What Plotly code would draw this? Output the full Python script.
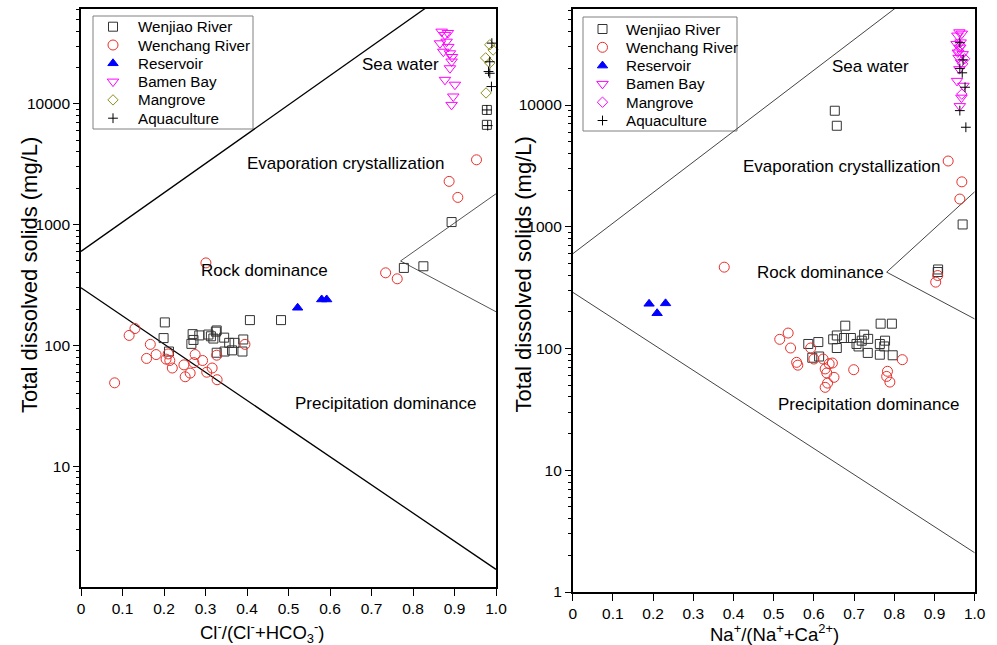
import plotly.graph_objects as go

# ---- Gibbs diagram data: TDS (mg/L) vs. ion ratios ----
# Panel A: Cl-/(Cl- + HCO3-)
wenjiao_cl = [0.893, 0.778, 0.825, 0.407, 0.482, 0.202, 0.199, 0.212, 0.269, 0.271, 0.266, 0.285, 0.307, 0.313,
              0.319, 0.325, 0.327, 0.345, 0.357, 0.370, 0.391, 0.346, 0.364, 0.389, 0.327, 0.978, 0.978]
wenjiao_cl_tds = [1050, 438, 452, 162, 162, 155, 115, 89, 124, 111, 103, 121, 123, 119,
                  114, 130, 133, 116, 105, 105, 112, 89, 91, 89, 87, 8900, 6700]
wenchang_cl = [0.953, 0.887, 0.908, 0.301, 0.734, 0.762, 0.395, 0.130, 0.116, 0.167, 0.158, 0.181, 0.205, 0.210,
               0.214, 0.220, 0.248, 0.275, 0.272, 0.293, 0.263, 0.251, 0.303, 0.316, 0.327, 0.328, 0.081]
wenchang_cl_tds = [3440, 2280, 1680, 482, 399, 356, 102, 138, 121, 102, 78, 84, 77, 85,
                   75, 65, 69, 84, 72, 75, 59, 55, 60, 65, 83, 52, 49]
reservoir_cl = [0.522, 0.580, 0.592]
reservoir_cl_tds = [205, 240, 240]
bamen_cl = [0.869, 0.877, 0.884, 0.865, 0.881, 0.885, 0.873, 0.889, 0.894, 0.893, 0.889, 0.877, 0.901, 0.897, 0.893]
bamen_cl_tds = [39600, 37200, 38600, 31700, 32700, 29600, 27000, 26200, 24400, 22400, 19700, 15800, 14400, 11500, 9800]
mangrove_cl = [0.985, 0.993, 0.975, 0.985, 0.976]
mangrove_cl_tds = [30800, 27900, 24000, 21800, 12300]
aqua_cl = [0.990, 0.985, 0.982, 0.985, 0.989, 0.978, 0.980]
aqua_cl_tds = [31800, 22300, 18500, 17900, 13900, 8900, 6600]

# Panel B: Na+/(Na+ + Ca2+)
wenjiao_na = [0.586, 0.611, 0.596, 0.613, 0.648, 0.657, 0.657, 0.678, 0.675, 0.692, 0.706, 0.711, 0.719, 0.725,
              0.735, 0.734, 0.766, 0.794, 0.764, 0.777, 0.775, 0.764, 0.796, 0.970, 0.909, 0.908, 0.652, 0.657]
wenjiao_na_tds = [109, 113, 84, 86, 119, 128, 101, 154, 122, 122, 109, 104, 116, 130,
                  120, 92, 160, 160, 109, 116, 104, 89, 88, 1045, 446, 425, 8980, 6760]
wenchang_na = [0.934, 0.968, 0.963, 0.377, 0.908, 0.903, 0.515, 0.536, 0.542, 0.557, 0.560, 0.592, 0.600,
               0.623, 0.638, 0.646, 0.628, 0.632, 0.650, 0.634, 0.628, 0.699, 0.783, 0.781, 0.789, 0.820]
wenchang_na_tds = [3470, 2340, 1690, 466, 398, 351, 119, 134, 101, 77, 73, 101, 82,
                   82, 75, 76, 68, 63, 58, 52, 48, 67, 65, 59, 53, 81]
reservoir_na = [0.190, 0.231, 0.210]
reservoir_na_tds = [233, 235, 195]
bamen_na = [0.962, 0.957, 0.968, 0.955, 0.965, 0.963, 0.958, 0.970, 0.960, 0.966, 0.962, 0.956, 0.972, 0.967, 0.963]
bamen_na_tds = [39600, 37200, 38600, 31700, 32700, 29600, 27000, 26200, 24400, 22400, 19700, 15800, 14400, 11500, 9800]
mangrove_na = [0.965, 0.960, 0.975, 0.970, 0.968]
mangrove_na_tds = [30800, 27900, 24000, 21800, 12300]
aqua_na = [0.963, 0.971, 0.963, 0.969, 0.976, 0.963, 0.978]
aqua_na_tds = [32500, 23500, 20000, 18400, 14000, 9000, 6570]

# Gibbs boundary lines (ratio, TDS)
cl_upper_x, cl_upper_y = [0, 1], [600, 160000]
cl_lower_x, cl_lower_y = [0, 1], [300, 1.4]
cl_wedge_x, cl_wedge_y = [1, 0.77, 1], [1800, 500, 190]
na_upper_x, na_upper_y = [0, 1], [600, 196000]
na_lower_x, na_lower_y = [0, 1], [290, 2.1]
na_wedge_x, na_wedge_y = [1, 0.781, 1], [1940, 424, 175]

x_ticks = [0, 0.1, 0.2, 0.3, 0.4, 0.5, 0.6, 0.7, 0.8, 0.9, 1.0]
x_tick_text = ["0", "0.1", "0.2", "0.3", "0.4", "0.5", "0.6", "0.7", "0.8", "0.9", "1.0"]
legend_names = ["Wenjiao River", "Wenchang River", "Reservoir", "Bamen Bay", "Mangrove", "Aquaculture"]

FONT = "Liberation Sans, Arial, Helvetica, sans-serif"
RED = "#e8302b"
DARK = "#333333"
BLUE = "#0000ff"
MAGENTA = "#ff00ff"
OLIVE = "#8f8f1f"
W, H = 997, 645

# marker styles per group: (symbol, size)
styles = [("square-open", 9), ("circle-open", 10), ("triangle-up", 9),
          ("triangle-down-open", 10), ("diamond-open", 8), ("cross-thin", 7)]
colors_a = [DARK, RED, BLUE, MAGENTA, OLIVE, "black"]
colors_b = [DARK, RED, BLUE, MAGENTA, MAGENTA, "black"]

fig = go.Figure()


def marker_of(i, color):
    sym, size = styles[i]
    return dict(symbol=sym, size=size, color=color, line=dict(color=color, width=1))


def add_line(x, y, xa, ya, color, width):
    fig.add_trace(go.Scatter(x=x, y=y, mode="lines", showlegend=False, hoverinfo="skip",
                             line=dict(color=color, width=width), xaxis=xa, yaxis=ya))


# boundaries
add_line(cl_upper_x, cl_upper_y, "x", "y", "black", 1.3)
add_line(cl_lower_x, cl_lower_y, "x", "y", "black", 1.3)
add_line(cl_wedge_x, cl_wedge_y, "x", "y", "#555555", 1)
add_line(na_upper_x, na_upper_y, "x2", "y2", "#444444", 1)
add_line(na_lower_x, na_lower_y, "x2", "y2", "#444444", 1)
add_line(na_wedge_x, na_wedge_y, "x2", "y2", "#444444", 1)

series_a = [(wenjiao_cl, wenjiao_cl_tds), (wenchang_cl, wenchang_cl_tds), (reservoir_cl, reservoir_cl_tds),
            (bamen_cl, bamen_cl_tds), (mangrove_cl, mangrove_cl_tds), (aqua_cl, aqua_cl_tds)]
series_b = [(wenjiao_na, wenjiao_na_tds), (wenchang_na, wenchang_na_tds), (reservoir_na, reservoir_na_tds),
            (bamen_na, bamen_na_tds), (mangrove_na, mangrove_na_tds), (aqua_na, aqua_na_tds)]

for i, (xs, ys) in enumerate(series_a):
    fig.add_trace(go.Scatter(x=xs, y=ys, mode="markers", name=legend_names[i], showlegend=False,
                             marker=marker_of(i, colors_a[i]), xaxis="x", yaxis="y", cliponaxis=False))
for i, (xs, ys) in enumerate(series_b):
    fig.add_trace(go.Scatter(x=xs, y=ys, mode="markers", name=legend_names[i], showlegend=False,
                             marker=marker_of(i, colors_b[i]), xaxis="x2", yaxis="y2", cliponaxis=False))

# ---- boxed legends, laid out in page pixels on a full-page overlay axis ----
shapes = []
annotations = []
ROW = 18.3
legend_boxes = [  # (left, top, right, bottom, symbol x, text x, first row y, colours)
    (93, 16, 253, 129, 113, 136, 26.7, colors_a),
    (583, 17, 737, 131, 602.5, 624, 29.0, colors_b),
]
for left, top, right, bottom, mx, tx, r0, cols in legend_boxes:
    shapes.append(dict(type="rect", xref="paper", yref="paper", x0=left / W, x1=right / W,
                       y0=1 - bottom / H, y1=1 - top / H, line=dict(color="#808080", width=1),
                       fillcolor="white", layer="below"))
    for i, name in enumerate(legend_names):
        ry = r0 + i * ROW
        fig.add_trace(go.Scatter(x=[mx], y=[ry], mode="markers", showlegend=False, hoverinfo="skip",
                                 marker=marker_of(i, cols[i]), xaxis="x3", yaxis="y3", cliponaxis=False))
        annotations.append(dict(x=tx / W, y=1 - ry / H, xref="paper", yref="paper", text=name,
                                showarrow=False, xanchor="left", yanchor="middle",
                                font=dict(family=FONT, size=15.2, color="black")))

# minor log ticks (2..9 in each decade) on overlaying y axes
minor_vals = [m * 10 ** k for k in range(0, 5) for m in range(2, 10)]
fig.add_trace(go.Scatter(x=[None], y=[None], xaxis="x", yaxis="y4", showlegend=False, hoverinfo="skip"))
fig.add_trace(go.Scatter(x=[None], y=[None], xaxis="x2", yaxis="y5", showlegend=False, hoverinfo="skip"))

x_common = dict(range=[0, 1], tickmode="array", tickvals=x_ticks, ticktext=x_tick_text,
                ticks="outside", ticklen=7, tickwidth=1.2, tickcolor="black",
                showline=True, linecolor="black", linewidth=1.6, mirror=True,
                showgrid=False, zeroline=False, automargin=False,
                tickfont=dict(family=FONT, size=15.5, color="black"))
y_common = dict(type="log", ticks="outside", ticklen=6, tickwidth=1.2, tickcolor="black",
                showline=True, linecolor="black", linewidth=1.6, mirror=True,
                showgrid=False, zeroline=False, tickmode="array", automargin=False,
                tickfont=dict(family=FONT, size=15.5, color="black"))
minor_common = dict(type="log", ticks="outside", ticklen=4, tickwidth=1.1, tickcolor="black",
                    showline=False, showgrid=False, zeroline=False, automargin=False,
                    showticklabels=True, tickmode="array", tickvals=minor_vals,
                    ticktext=[""] * len(minor_vals), tickfont=dict(size=1),
                    side="left", fixedrange=True)

fig.update_layout(
    width=W, height=H, margin=dict(l=0, r=0, t=0, b=0, autoexpand=False),
    paper_bgcolor="white", plot_bgcolor="rgba(0,0,0,0)", showlegend=False,
    xaxis=dict(domain=[81 / W, 496 / W], anchor="y", **x_common),
    yaxis=dict(domain=[(H - 587) / H, (H - 9) / H], anchor="x", range=[0, 4.785],
               tickvals=[10, 100, 1000, 10000], ticktext=["10", "100", "1000", "10000"], **y_common),
    xaxis2=dict(domain=[572.7 / W, 974.7 / W], anchor="y2", **x_common),
    yaxis2=dict(domain=[(H - 592) / H, (H - 9) / H], anchor="x2", range=[0, 4.789],
                tickvals=[1, 10, 100, 1000, 10000], ticktext=["1", "10", "100", "1000", "10000"], **y_common),
    xaxis3=dict(domain=[0, 1], range=[0, W], anchor="y3", visible=False, fixedrange=True),
    yaxis3=dict(domain=[0, 1], range=[H, 0], anchor="x3", visible=False, fixedrange=True),
    yaxis4=dict(overlaying="y", anchor="x", range=[0, 4.785], **minor_common),
    yaxis5=dict(overlaying="y2", anchor="x2", range=[0, 4.789], **minor_common),
)

# region labels (x in ratio units, y in log10 TDS units)
region_font = dict(family=FONT, size=17, color="black")
for xr, yr, txt, pos in [("x", "y", "Sea water", (0.769, 4.328)),
                         ("x", "y", "Evaporation crystallization", (0.637, 3.504)),
                         ("x", "y", "Rock dominance", (0.441, 2.62)),
                         ("x", "y", "Precipitation dominance", (0.733, 1.521)),
                         ("x2", "y2", "Sea water", (0.740, 4.315)),
                         ("x2", "y2", "Evaporation crystallization", (0.668, 3.493)),
                         ("x2", "y2", "Rock dominance", (0.616, 2.627)),
                         ("x2", "y2", "Precipitation dominance", (0.736, 1.54))]:
    annotations.append(dict(x=pos[0], y=pos[1], xref=xr, yref=yr, text=txt, showarrow=False,
                            font=region_font, xanchor="center", yanchor="middle"))

# axis titles
title_font = dict(family=FONT, size=22, color="black")
for cx in (29, 522.5):
    annotations.append(dict(x=cx / W, y=1 - 275 / H, xref="paper", yref="paper", textangle=-90,
                            text="Total dissolved solids (mg/L)", showarrow=False, font=title_font,
                            xanchor="center", yanchor="middle"))
annotations.append(dict(x=262.7 / W, y=1 - 632 / H, xref="paper", yref="paper",
                        text="Cl<sup>-</sup>/(Cl<sup>-</sup>+HCO<sub>3</sub><sup>-</sup>)",
                        showarrow=False, font=dict(family=FONT, size=18.5, color="black"),
                        xanchor="center", yanchor="middle"))
annotations.append(dict(x=774 / W, y=1 - 633 / H, xref="paper", yref="paper",
                        text="Na<sup>+</sup>/(Na<sup>+</sup>+Ca<sup>2+</sup>)",
                        showarrow=False, font=dict(family=FONT, size=18.5, color="black"),
                        xanchor="center", yanchor="middle"))
fig.update_layout(annotations=annotations, shapes=shapes)

fig.write_html("out.html")
